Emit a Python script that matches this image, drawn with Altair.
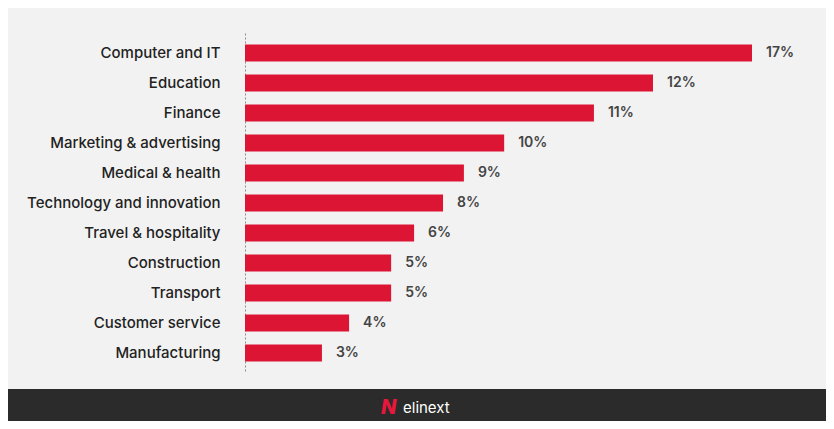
import altair as alt
import pandas as pd

categories = [
    "Computer and IT", "Education", "Finance", "Marketing & advertising",
    "Medical & health", "Technology and innovation", "Travel & hospitality",
    "Construction", "Transport", "Customer service", "Manufacturing",
]
# bar lengths (in % units of the 17% bar)
bar_values = [17.0, 13.68, 11.70, 8.69, 7.34, 6.64, 5.67, 4.90, 4.90, 3.49, 2.58]
value_labels = ["17%", "12%", "11%", "10%", "9%", "8%", "6%", "5%", "5%", "4%", "3%"]

df = pd.DataFrame({"category": categories, "value": bar_values, "label": value_labels})

FONT = "Inter"

y_enc = alt.Y(
    "category:N", sort=categories,
    scale=alt.Scale(paddingInner=0.433, paddingOuter=0.383),
    axis=alt.Axis(
        title=None, ticks=False, domain=True, domainDash=[2, 2],
        domainColor="#8a8a8a", domainWidth=1, labelPadding=25,
        labelFontSize=15, labelFont=FONT, labelFontWeight=500,
        labelColor="#222222", grid=False, labelLimit=400,
    ),
)
x_enc = alt.X("value:Q", scale=alt.Scale(domain=[0, 17]), axis=None)

bars = alt.Chart(df).mark_bar(color="#dc1535").encode(x=x_enc, y=y_enc)
texts = alt.Chart(df).mark_text(
    align="left", baseline="middle", dx=14, font=FONT, fontSize=14,
    fontWeight=600, color="#444444",
).encode(x=x_enc, y=alt.Y("category:N", sort=categories), text="label:N")

footer_df = pd.DataFrame({"logo": ["elinext"], "icon": ["N"]})
footer = alt.Chart(footer_df).mark_rect(color="#2b2b2b").encode(
    x=alt.value(-237), x2=alt.value(582), y=alt.value(356), y2=alt.value(400)
)
logo_text = alt.Chart(footer_df).mark_text(
    font=FONT, fontSize=15, color="#ffffff", align="left", baseline="middle"
).encode(x=alt.value(158), y=alt.value(375), text="logo:N")
logo_icon = alt.Chart(footer_df).mark_text(
    font=FONT, fontSize=20, fontWeight=800, color="#e8173b", align="left",
    baseline="middle", fontStyle="italic"
).encode(x=alt.value(136), y=alt.value(375), text="icon:N")

chart = alt.layer(bars, texts, footer, logo_icon, logo_text).properties(
    width=507, height=340,
    padding={"left": 237, "top": 25, "right": 74, "bottom": 48},
    autosize=alt.AutoSizeParams(type="none"),
    background="#f2f2f2",
).configure_view(stroke=None)

chart.save("out.html", embed_options={"renderer": "svg", "actions": False})
